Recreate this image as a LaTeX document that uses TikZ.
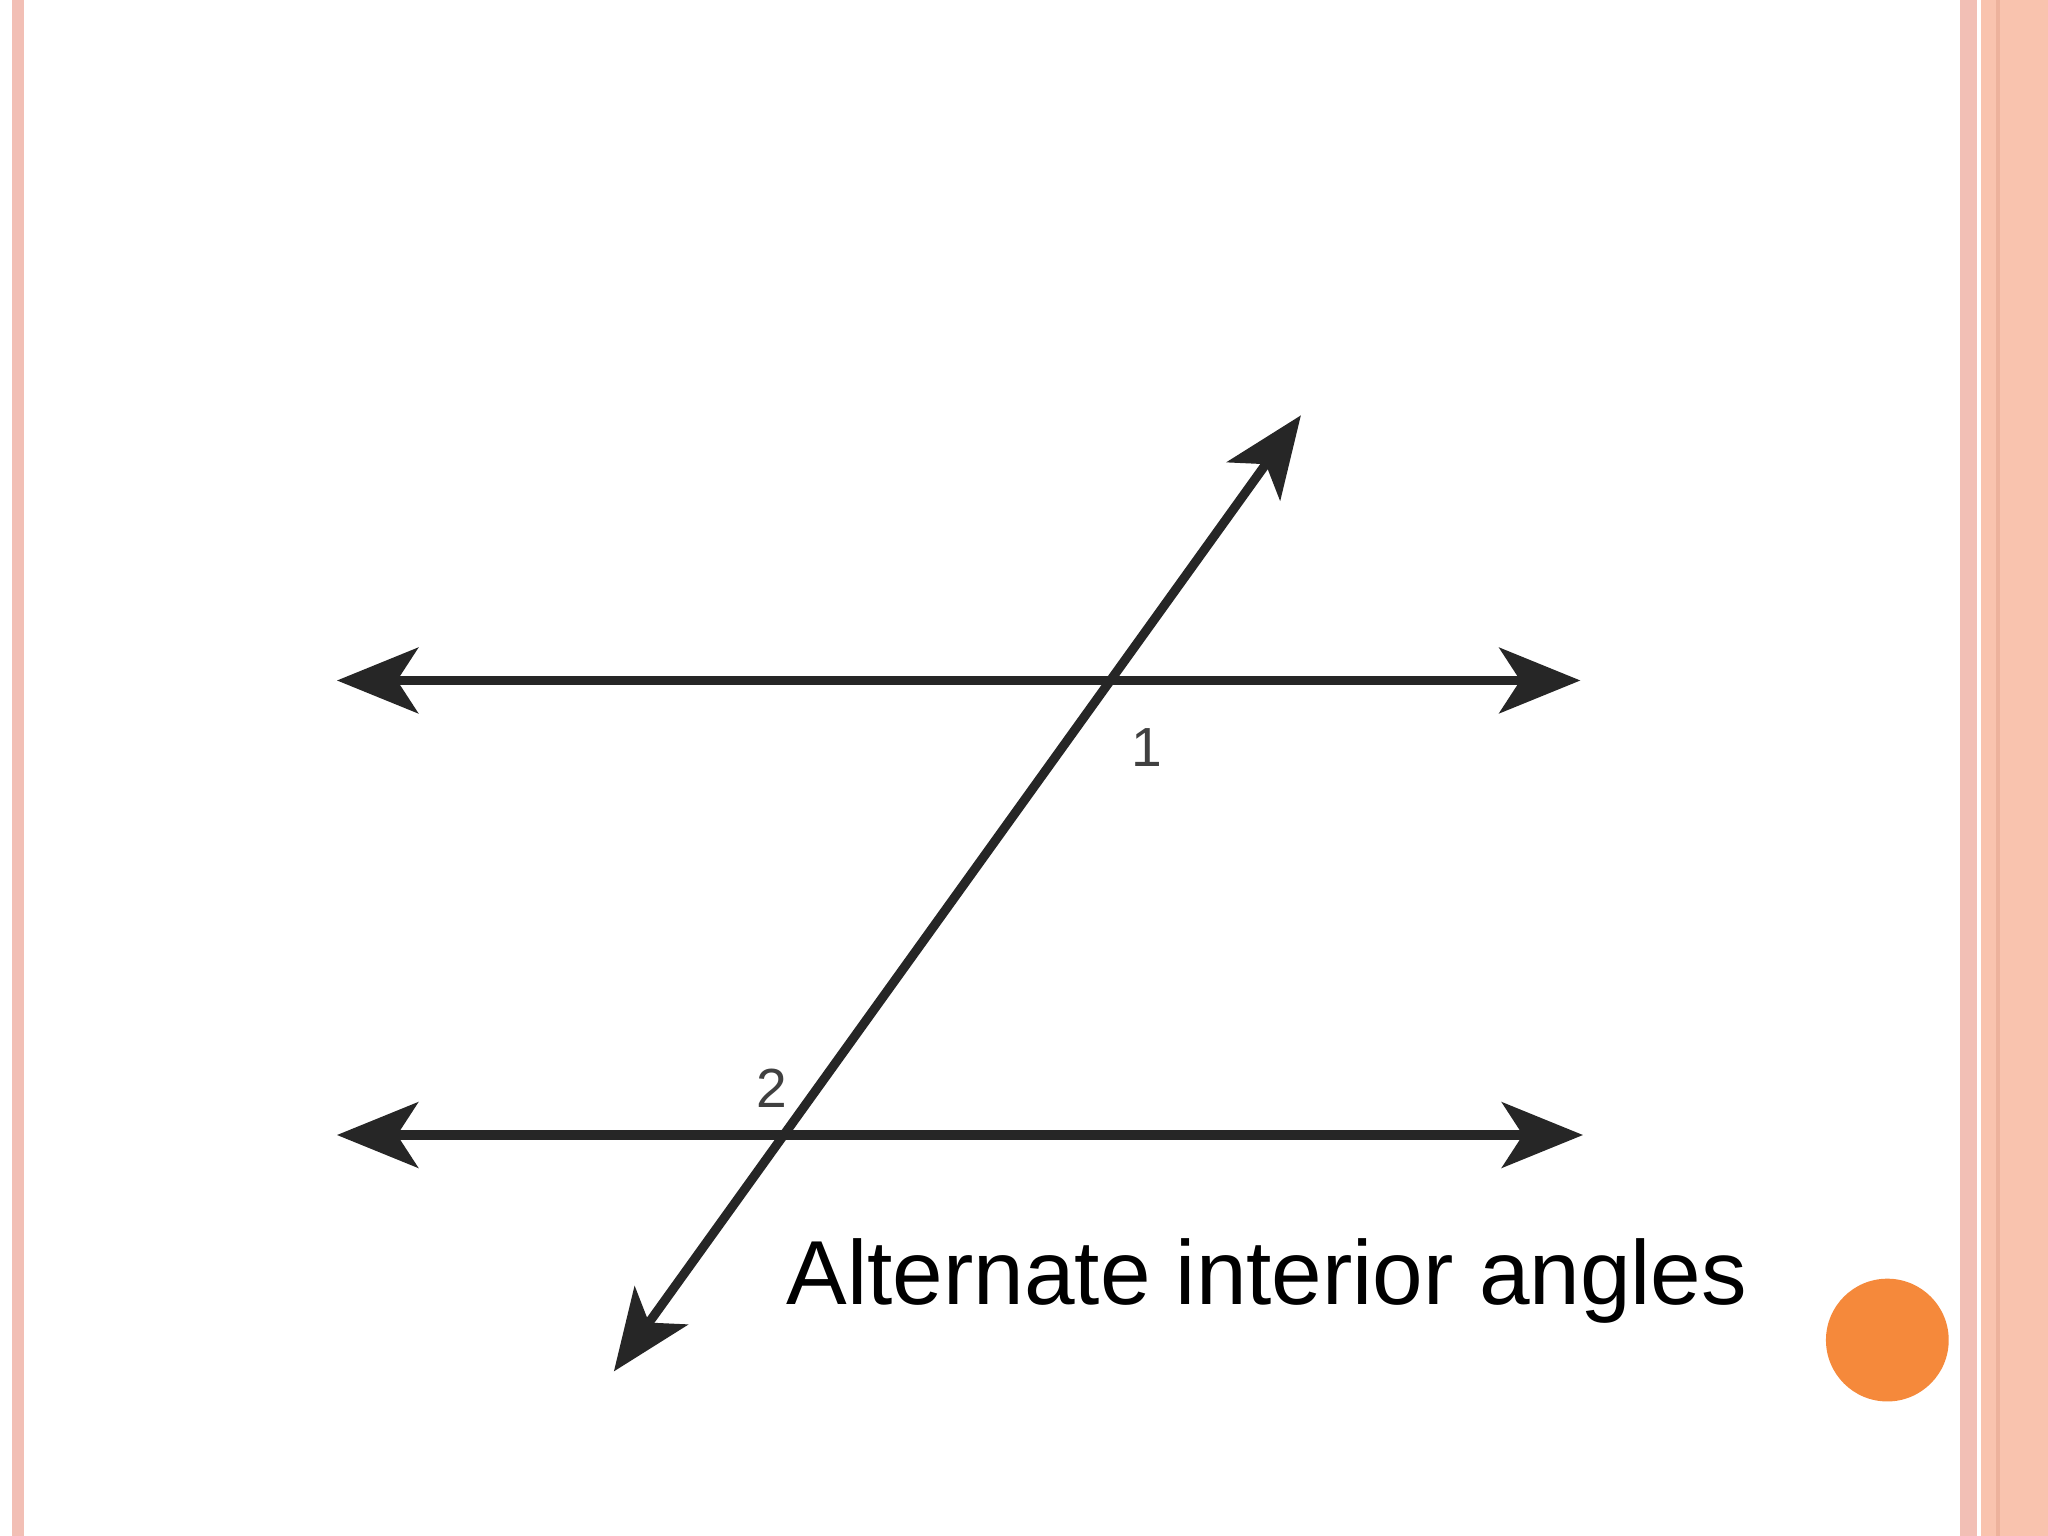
\documentclass[tikz,border=0pt]{standalone}
\usepackage{fontspec}
\setmainfont{Liberation Sans}
\usetikzlibrary{arrows.meta}
\definecolor{pinkline}{HTML}{F2BFB5}
\definecolor{salmon}{HTML}{F9C3AE}
\definecolor{dsalmon}{HTML}{EDB29C}
\definecolor{dot}{HTML}{F5893B}
\begin{document}
\begin{tikzpicture}[x=0.01cm,y=-0.01cm,
  ln/.style={line width=0.07cm,color=black!85,{Stealth[length=0.62cm,width=0.5cm,inset=0.16cm]}-{Stealth[length=0.62cm,width=0.5cm,inset=0.16cm]}},
  lab/.style={font=\fontsize{12pt}{14pt}\selectfont,text=black!75}]
\useasboundingbox (0,0) rectangle (1568,1176);
\fill[white] (0,0) rectangle (1568,1176);
% borders
\fill[pinkline] (9,0) rectangle (18,1176);
\fill[pinkline] (1501,0) rectangle (1514,1176);
\fill[salmon] (1517,0) rectangle (1568,1176);
\fill[dsalmon] (1528,0) rectangle (1531,1176);
% lines
\coordinate (a1) at (258,521); \coordinate (a2) at (1210,521);
\coordinate (b1) at (258,869); \coordinate (b2) at (1212,869);
\coordinate (t1) at (470,1050); \coordinate (t2) at (996,318);
\draw[ln] (a1) -- (a2);
\draw[ln] (b1) -- (b2);
\draw[ln] (t1) -- (t2);
\node[lab] (n1) at (878,572) {1};
\node[lab] (n2) at (591,833) {2};
\node[font=\fontsize{19.8pt}{24pt}\selectfont] (cap) at (970,981) {Alternate interior angles};
\fill[dot] (1445,1026) circle (47);
\end{tikzpicture}
\end{document}
